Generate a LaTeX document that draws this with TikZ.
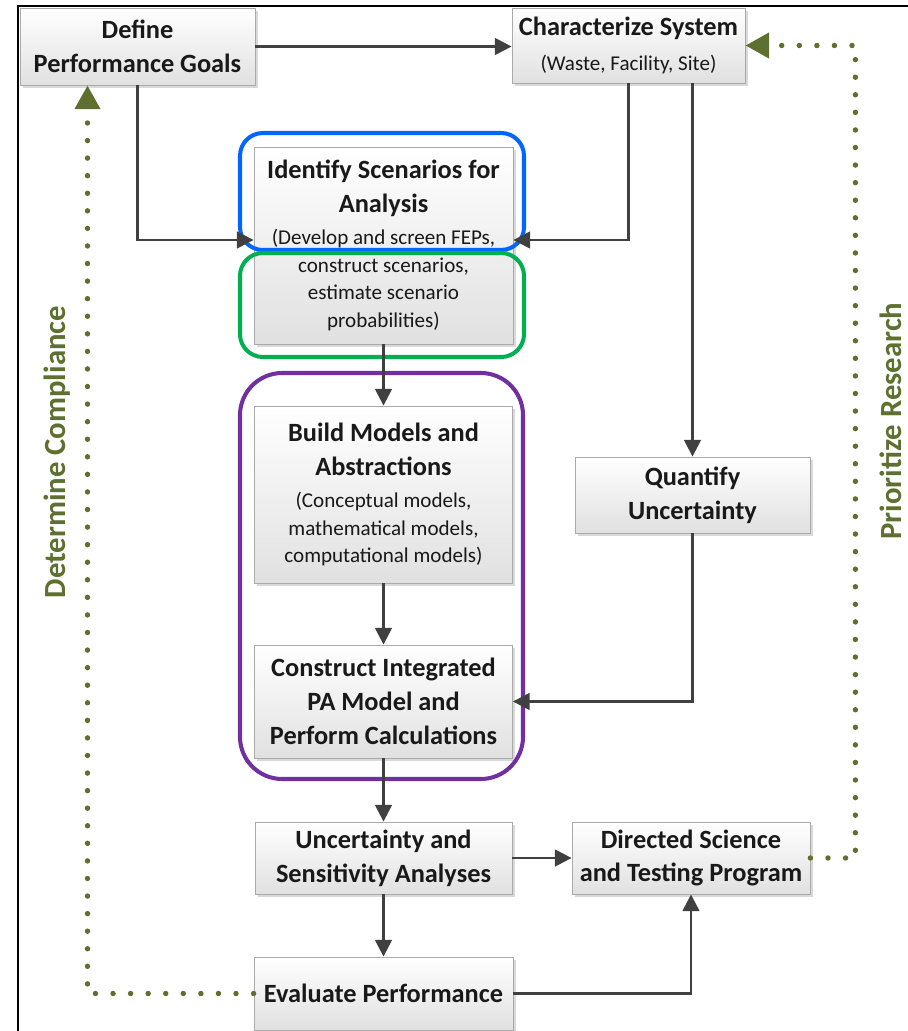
\documentclass[tikz,border=0pt]{standalone}
\usepackage{fontspec}
\setmainfont{Carlito}
\usetikzlibrary{arrows.meta,shadows}
\definecolor{arrowgray}{RGB}{64,64,64}
\definecolor{olivefb}{RGB}{94,112,48}
\definecolor{hlblue}{RGB}{0,102,255}
\definecolor{hlgreen}{RGB}{0,176,80}
\definecolor{hlpurple}{RGB}{112,48,160}
\definecolor{boxline}{RGB}{170,170,170}
\newcommand{\subtxt}[1]{{\fontsize{12}{15.6}\selectfont\mdseries #1}}

\begin{document}
\begin{tikzpicture}[
    x=0.02cm, y=-0.02cm,
    box/.style={rectangle, draw=boxline, line width=0.5pt, top color=white, bottom color=black!12,
      drop shadow={opacity=0.3, shadow xshift=1.5pt, shadow yshift=-1.5pt},
      align=center, inner sep=0pt, text=black!90, font=\fontsize{15}{19.3}\selectfont\bfseries},
    flow/.style={draw=arrowgray, line width=1.4pt, -{Triangle[length=9.5pt,width=9.5pt]}},
    fb/.style={draw=olivefb, line width=3.1pt, line cap=round, dash pattern=on 0pt off 10pt,
      -{Triangle[length=13.5pt,width=14pt]}},
    ring/.style={line width=2.3pt, rounded corners=#1},
    lbl/.style={rotate=90, text=olivefb, font=\fontsize{17.5}{21}\selectfont\bfseries}]
    \useasboundingbox (0,0) rectangle (908,1031);
    \draw[line width=1.6pt] (18,1031) -- (18,6) -- (908,6);

    \node [box, minimum width=4.7cm, minimum height=1.54cm] (def) at (137.5,46.5) {Define\\Performance Goals};
    \node [box, minimum width=4.66cm, minimum height=1.5cm] (char) at (628.5,45.5)
      {Characterize System\\[1pt]\subtxt{(Waste, Facility, Site)}};
    \node [box, minimum width=5.18cm, minimum height=3.94cm] (scen) at (383.5,245.5)
      {Identify Scenarios for\\Analysis\\[-1pt]\subtxt{(Develop and screen FEPs,}\\[-3.7pt]
       \subtxt{construct scenarios,}\\[-3.7pt]\subtxt{estimate scenario}\\[-3.7pt]\subtxt{probabilities)}};
    \node [box, minimum width=5.16cm, minimum height=3.54cm] (build) at (383.5,494.5)
      {Build Models and\\Abstractions\\[-1pt]\subtxt{(Conceptual models,}\\[-3.7pt]
       \subtxt{mathematical models,}\\[-3.7pt]\subtxt{computational models)}};
    \node [box, minimum width=5.16cm, minimum height=2.26cm] (constr) at (383.5,701.5)
      {Construct Integrated\\PA Model and\\Perform Calculations};
    \node [box, minimum width=4.7cm, minimum height=1.52cm] (quant) at (692.5,495) {Quantify\\Uncertainty};
    \node [box, minimum width=5.14cm, minimum height=1.44cm] (usa) at (383.5,858) {Uncertainty and\\Sensitivity Analyses};
    \node [box, minimum width=4.76cm, minimum height=1.44cm] (dsp) at (691,858) {Directed Science\\and Testing Program};
    \node [box, minimum width=5.18cm, minimum height=1.46cm] (eval) at (383.5,993.5) {Evaluate Performance};

    % highlight frames
    \draw[ring=13pt, draw=hlblue] (240,133) rectangle (524,250);
    \draw[ring=13pt, draw=hlgreen] (240,253) rectangle (524,357);
    \draw[ring=24pt, draw=hlpurple] (240,373) rectangle (523,779);

    \draw[flow] (def.east) -- (def.east -| char.west);
    \draw[flow] (def.south) |- ([yshift=0.11cm]scen.west);
    \draw[flow] (char.south) |- ([yshift=0.11cm]scen.east);
    \draw[flow] (char.south -| quant.north) -- (quant.north);
    \draw[flow] (scen.south) -- (build.north);
    \draw[flow] (build.south) -- (constr.north);
    \draw[flow] (quant.south) |- (constr.east);
    \draw[flow] (constr.south) -- (usa.north);
    \draw[flow] (usa.east) -- (dsp.west);
    \draw[flow] (usa.south) -- (eval.north);
    \draw[flow] (eval.east) -| (dsp.south);

    \draw[fb] (eval.west) -| ([xshift=-1cm]def.south);
    \draw[fb] (dsp.east) -- ++(45,0) |- (char.east);
    \node [lbl] (comp) at (57,452) {Determine Compliance};
    \node [lbl] (res) at (891,421) {Prioritize Research};
  \end{tikzpicture}
\end{document}
